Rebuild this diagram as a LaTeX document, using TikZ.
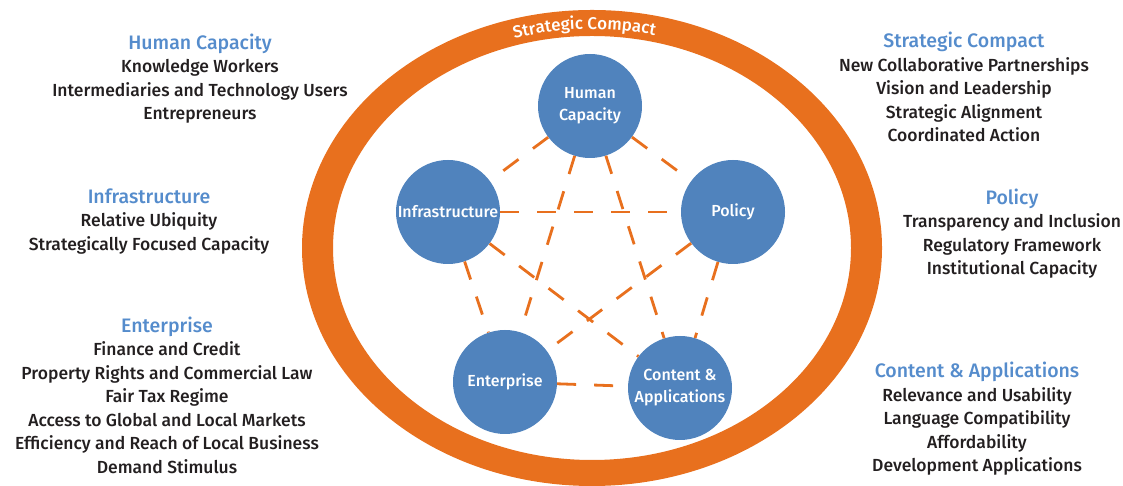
\documentclass[tikz,border=0pt]{standalone}
\usepackage{fontspec}
\setmainfont{Fira Sans}[BoldFont={Fira Sans Medium}]
\usetikzlibrary{decorations.text}

\definecolor{ringorange}{RGB}{232,112,30}
\definecolor{hubblue}{RGB}{80,131,189}
\definecolor{headblue}{RGB}{85,140,204}
\definecolor{bodytext}{RGB}{35,31,32}

\newcommand{\blockhead}[1]{{\color{headblue}\fontsize{19.5}{23.5}\selectfont #1}}

\begin{document}
\begin{tikzpicture}[x=1pt, y=1pt,
    hub/.style={circle, fill=hubblue, minimum size=104pt, inner sep=0pt, text=white,
        align=center, font=\bfseries\fontsize{16}{22}\selectfont},
    link/.style={ringorange, line width=2.8pt, dash pattern=on 19pt off 18pt},
    block/.style={align=center, text=bodytext, font=\bfseries\fontsize{17.5}{23.5}\selectfont}]
    \useasboundingbox (0,0) rectangle (1123,486);

    % Ring
    \fill[ringorange, even odd rule] (592,238) ellipse [x radius=290, y radius=238]
        (592,238) ellipse [x radius=259, y radius=212];
    \path[decorate, decoration={text along path, text align=center,
        text={|\color{white}\bfseries\fontsize{17}{17}\selectfont|Strategic Compact}}]
        (459,427.5) arc [start angle=120, end angle=63.4, x radius=266, y radius=219];

    % Hubs
    \node[hub] (hc) at (590,380) {Human\\Capacity};
    \node[hub] (infra) at (448,274) {Infrastructure};
    \node[hub] (pol) at (733,274) {Policy};
    \node[hub] (ent) at (505,104) {Enterprise};
    \node[hub] (con) at (680,98) {Content \&\\Applications};

    % Links between every pair of hubs
    \foreach \a/\b in {hc/infra, hc/pol, hc/ent, hc/con, infra/pol,
        infra/ent, infra/con, pol/ent, pol/con, ent/con}
        \draw[link] (\a) -- (\b);

    % Left column
    \node[block] (hcText) at (200,407.5) {\blockhead{Human Capacity}\\Knowledge Workers\\
        Intermediaries and Technology Users\\Entrepreneurs};
    \node[block] (infraText) at (149,264.5) {\blockhead{Infrastructure}\\Relative Ubiquity\\
        Strategically Focused Capacity};
    \node[block] (entText) at (167,91) {\blockhead{Enterprise}\\Finance and Credit\\
        Property Rights and Commercial Law\\Fair Tax Regime\\
        Access to Global and Local Markets\\Efficiency and Reach of Local Business\\
        Demand Stimulus};

    % Right column
    \node[block] (scText) at (964,399) {\blockhead{Strategic Compact}\\New Collaborative Partnerships\\
        Vision and Leadership\\Strategic Alignment\\Coordinated Action};
    \node[block] (polText) at (1012,252.5) {\blockhead{Policy}\\Transparency and Inclusion\\
        Regulatory Framework\\Institutional Capacity};
    \node[block] (conText) at (977,67) {\blockhead{Content \& Applications}\\Relevance and Usability\\
        Language Compatibility\\Affordability\\Development Applications};
\end{tikzpicture}
\end{document}
